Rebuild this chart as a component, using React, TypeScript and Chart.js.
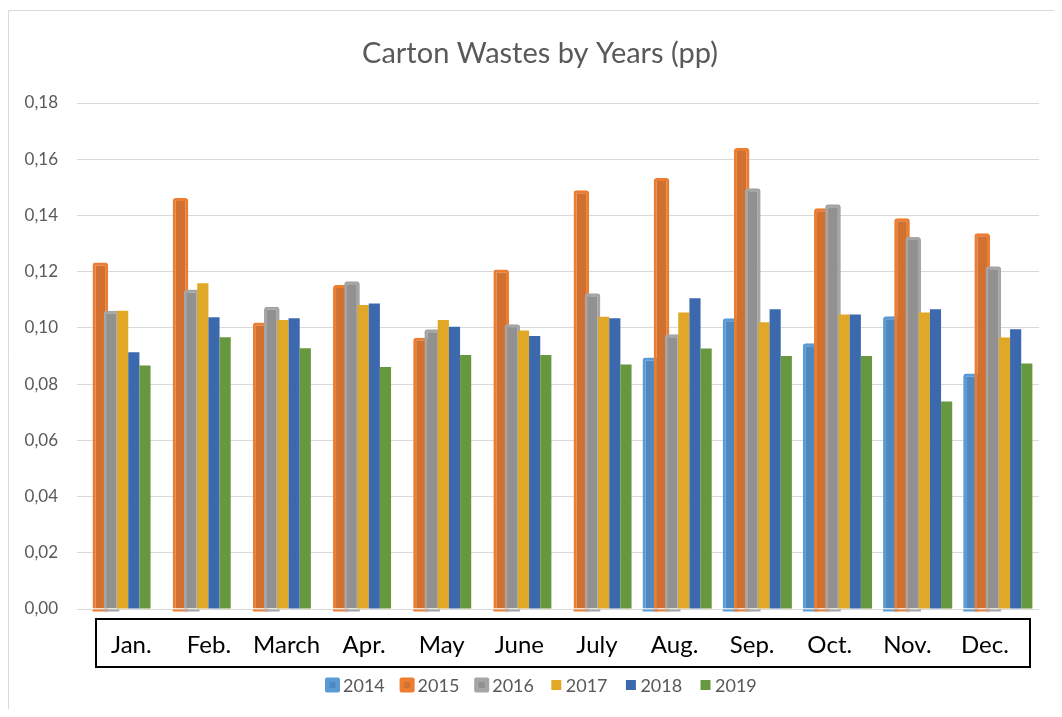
import React, { useEffect, useRef } from "react";
import { Chart, registerables } from "chart.js";

Chart.register(...registerables);

const months = ["Jan.", "Feb.", "March", "Apr.", "May", "June", "July", "Aug.", "Sep.", "Oct.", "Nov.", "Dec."];
const years = ["2014", "2015", "2016", "2017", "2018", "2019"];
const y2014 = [null, null, null, null, null, null, null, 0.0895, 0.1034, 0.0945, 0.1041, 0.0838];
const y2015 = [0.1233, 0.1462, 0.1019, 0.1153, 0.0965, 0.1208, 0.149, 0.1533, 0.164, 0.1426, 0.139, 0.1337];
const y2016 = [0.1061, 0.1137, 0.1075, 0.1166, 0.0995, 0.1013, 0.1123, 0.0977, 0.1497, 0.144, 0.1323, 0.1219];
const y2017 = [0.1061, 0.1159, 0.1028, 0.1081, 0.1028, 0.0991, 0.104, 0.1055, 0.102, 0.1048, 0.1055, 0.0966];
const y2018 = [0.0913, 0.1038, 0.1034, 0.1087, 0.1004, 0.0971, 0.1034, 0.1105, 0.1066, 0.1048, 0.1066, 0.0995];
const y2019 = [0.0866, 0.0967, 0.0928, 0.0861, 0.0904, 0.0904, 0.087, 0.0927, 0.09, 0.09, 0.0738, 0.0873];
const yTicks = [0, 0.02, 0.04, 0.06, 0.08, 0.1, 0.12, 0.14, 0.16, 0.18];

const seriesValues = [y2014, y2015, y2016, y2017, y2018, y2019];
const edgeColors = ["#5B9BD5", "#ED7D31", "#A5A5A5", "#E1A827", "#3C69AE", "#67983F"];
const fillColors = ["#4D89C0", "#D2702F", "#919191", "#E1A827", "#3C69AE", "#67983F"];
const raised = [true, true, true, false, false, false];

const TITLE = "Carton Wastes by Years (pp)";

export default function App() {
  const ref = useRef<HTMLCanvasElement | null>(null);

  useEffect(() => {
    if (!ref.current) return;

    const ascendingDraw = {
      id: "ascendingDraw",
      beforeDatasetsDraw(chart: any) {
        const ctx = chart.ctx;
        const metas = chart.getSortedVisibleDatasetMetas();
        ctx.save();
        const area = chart.chartArea;
        ctx.beginPath();
        ctx.rect(area.left, area.top - 10, area.right - area.left, area.bottom - area.top + 14);
        ctx.clip();
        for (const meta of metas) {
          meta.controller.draw();
          const di = meta.index;
          if (raised[di]) {
            meta.data.forEach((el: any, i: number) => {
              if (seriesValues[di][i] == null) return;
              ctx.fillStyle = edgeColors[di];
              ctx.fillRect(el.x - el.width / 2, el.base + 1, el.width, 2);
            });
          }
        }
        ctx.restore();
        return false;
      },
    };

    const decor = {
      id: "decor",
      afterDraw(chart: any) {
        const ctx = chart.ctx;
        ctx.save();
        // frame
        ctx.strokeStyle = "#D9D9D9";
        ctx.lineWidth = 1;
        ctx.beginPath();
        ctx.moveTo(0.5, chart.height);
        ctx.lineTo(0.5, 2.5);
        ctx.lineTo(chart.width, 2.5);
        ctx.stroke();
        // title
        ctx.fillStyle = "#595959";
        ctx.font = "29px Lato";
        ctx.textAlign = "center";
        ctx.textBaseline = "middle";
        ctx.fillText(TITLE, 532, 46);
        // label box
        ctx.strokeStyle = "#000000";
        ctx.lineWidth = 2;
        ctx.strokeRect(88, 611, 934, 48);
        // category labels inside the box (slightly compressed toward the box centre)
        const xs = chart.scales.x;
        const boxCenter = 88 + 934 / 2;
        ctx.fillStyle = "#000000";
        ctx.font = "24px Lato";
        ctx.textAlign = "center";
        ctx.textBaseline = "middle";
        months.forEach((m, i) => {
          const px = xs.getPixelForValue(i);
          ctx.fillText(m, boxCenter + (px - boxCenter) * 0.968, 637);
        });
        // legend
        ctx.font = "18px Lato";
        ctx.textAlign = "left";
        ctx.textBaseline = "middle";
        years.forEach((y, i) => {
          const cx = 324.5 + 74.6 * i;
          const cy = 677;
          if (raised[i]) {
            ctx.fillStyle = edgeColors[i];
            ctx.beginPath();
            (ctx as any).roundRect ? (ctx as any).roundRect(cx - 7.5, cy - 7.5, 15, 15, 2) : ctx.rect(cx - 7.5, cy - 7.5, 15, 15);
            ctx.fill();
            ctx.fillStyle = fillColors[i];
            ctx.fillRect(cx - 3, cy - 3, 6, 6);
          } else {
            ctx.fillStyle = edgeColors[i];
            ctx.fillRect(cx - 5, cy - 5, 10, 10);
          }
          ctx.fillStyle = "#595959";
          ctx.fillText(y, cx + (raised[i] ? 10.5 : 9.5), cy + 1);
        });
        ctx.restore();
      },
    };

    const chart = new Chart(ref.current, {
      type: "bar",
      data: {
        labels: months,
        datasets: years.map((y, i) => ({
          label: y,
          data: seriesValues[i],
          backgroundColor: fillColors[i],
          borderColor: edgeColors[i],
          borderWidth: raised[i] ? 3 : 0,
          borderSkipped: "start",
          borderRadius: raised[i] ? { topLeft: 3, topRight: 3, bottomLeft: 0, bottomRight: 0 } : 0,
          barPercentage: raised[i] ? 1.4 : 1,
          categoryPercentage: 0.835,
        })),
      },
      options: {
        animation: false,
        responsive: true,
        maintainAspectRatio: false,
        layout: { padding: { top: 95, right: 15, bottom: 40, left: 0 } },
        plugins: {
          legend: { display: false },
          title: { display: false },
          tooltip: { enabled: false },
        },
        scales: {
          x: {
            grid: { display: false },
            border: { display: false },
            ticks: { display: false },
            afterFit: (s: any) => {
              s.height = 60;
            },
          },
          y: {
            min: 0,
            max: 0.18,
            afterBuildTicks: (s: any) => {
              s.ticks = yTicks.map((v) => ({ value: v }));
            },
            grid: { color: "#D9D9D9", lineWidth: 1, drawTicks: false },
            border: { display: false },
            ticks: {
              color: "#595959",
              font: { family: "Lato", size: 17 },
              padding: 19,
              callback: (v: any) => Number(v).toFixed(2).replace(".", ","),
            },
            afterFit: (s: any) => {
              s.width = 69;
            },
          },
        },
      },
      plugins: [ascendingDraw, decor],
    });

    return () => chart.destroy();
  }, []);

  return (
    <div style={{ width: 1046, height: 701, position: "relative" }}>
      <canvas ref={ref} />
    </div>
  );
}
